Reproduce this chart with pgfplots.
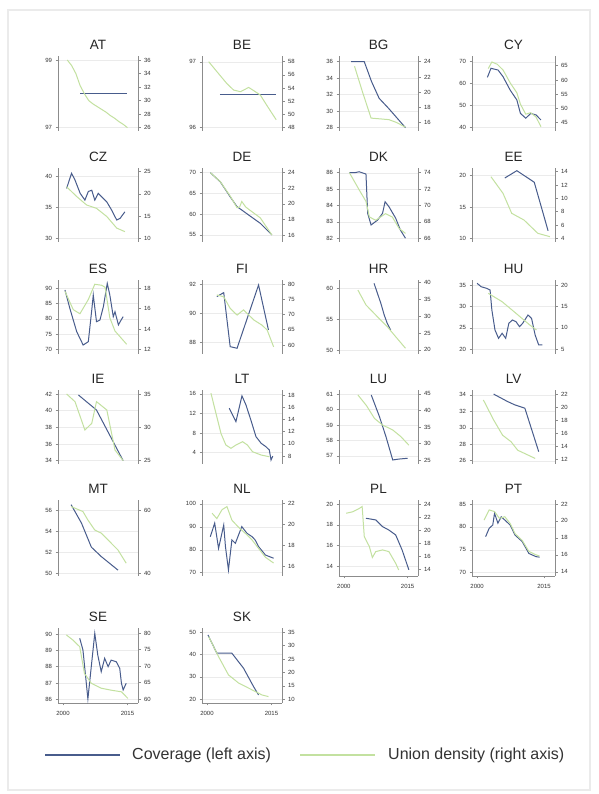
\documentclass[border=0pt]{standalone}
\usepackage{fontspec}
\setmainfont{Liberation Sans}
\usepackage{pgfplots}
\pgfplotsset{compat=1.18}
\definecolor{covc}{RGB}{72,92,140}
\definecolor{denc}{RGB}{195,225,160}
\pgfplotsset{
  base/.style={scale only axis, xmin=1998.85, xmax=2017.45, clip=false,
    tick align=outside, major tick length=2.5pt,
    axis line style={-,black!45,line width=0.6pt}, tick style={black!45,line width=0.5pt},
    ticklabel style={font=\fontsize{6}{7}\selectfont, text=black!80},
    /pgf/number format/assume math mode=true, scaled y ticks=false,
    yticklabel style={/pgf/number format/fixed}},
  lax/.style={base, axis y line*=left, ymajorgrids, major grid style={black!8, line width=0.4pt},
    title style={font=\fontsize{13.5}{14}\selectfont, text=black!85, anchor=center, yshift=5pt}},
  rax/.style={base, axis y line*=right, hide x axis},
  nox/.style={hide x axis},
  xax/.style={axis x line*=bottom, xtick={2000,2015}, xticklabel style={/pgf/number format/1000 sep={}, yshift=-2pt}},
  cov/.style={color=covc, line width=1.0pt, mark=none},
  den/.style={color=denc, line width=1.0pt, mark=none},
  cA/.style={width=80pt}, cB/.style={width=80pt}, cC/.style={width=79pt}, cD/.style={width=83pt},
  rA/.style={height=75pt}, rB/.style={height=74pt}, rC/.style={height=74pt}, rD/.style={height=74pt}, rE/.style={height=76pt}, rF/.style={height=75pt},
}
\begin{document}
\begin{tikzpicture}
\fill[white] (0pt,0pt) rectangle (598pt,794pt);
\draw[black!8, line width=2pt] (8pt,4pt) rectangle (590pt,784pt);

% ---------- Row 1 ----------
% AT
\begin{axis}[lax,nox,cA,rA,at={(58pt,663pt)},title={AT},ymin=96.90,ymax=99.12,ytick={97,99}]
\addplot[cov] coordinates {(2004,98)(2015,98)};
\end{axis}
\begin{axis}[rax,cA,rA,at={(58pt,663pt)},ymin=25.51,ymax=36.59,ytick={26,28,30,32,34,36}]
\addplot[den] coordinates {(2001,36.0)(2002,35.2)(2003,34.0)(2004,32.2)(2005,31.0)(2006,30.0)(2007,29.5)(2008,29.1)(2009,28.7)(2010,28.3)(2011,27.8)(2012,27.4)(2013,26.9)(2014,26.5)(2015,26.0)};
\end{axis}
% BE
\begin{axis}[lax,nox,cB,rA,at={(202pt,663pt)},title={BE},ymin=95.95,ymax=97.09,ytick={96,97}]
\addplot[cov] coordinates {(2003,96.5)(2016,96.5)};
\end{axis}
\begin{axis}[rax,cB,rA,at={(202pt,663pt)},ymin=47.5,ymax=58.86,ytick={48,50,52,54,56,58}]
\addplot[den] coordinates {(2000.4,58)(2002.3,56.5)(2004.6,54.7)(2006.2,53.7)(2007.8,53.45)(2009.7,54.1)(2010.9,53.6)(2012.4,52.95)(2014,51.3)(2016.1,49.2)};
\end{axis}
% BG
\begin{axis}[lax,nox,cC,rA,at={(339pt,663pt)},title={BG},ymin=27.6,ymax=36.69,ytick={28,30,32,34,36}]
\addplot[cov] coordinates {(2001.7,36)(2004.8,36)(2006.5,33.6)(2008.3,31.56)(2010.6,30.3)(2014.5,28)};
\end{axis}
\begin{axis}[rax,cC,rA,at={(339pt,663pt)},ymin=14.91,ymax=24.75,ytick={16,18,20,22,24}]
\addplot[den] coordinates {(2002.5,23.4)(2004.4,20.0)(2006.4,16.6)(2008.5,16.5)(2010.6,16.4)(2012.5,16.0)(2014.5,15.4)};
\end{axis}
% CY
\begin{axis}[lax,nox,cD,rA,at={(472pt,663pt)},title={CY},ymin=38.5,ymax=72.6,ytick={40,50,60,70}]
\addplot[cov] coordinates {(2002.3,62.9)(2003.1,67.0)(2004.7,66.2)(2005.8,63.2)(2007.4,57.1)(2008.9,52.6)(2009.7,46.5)(2010.9,44.3)(2012.0,46.5)(2013.2,45.8)(2014.3,43.5)};
\end{axis}
\begin{axis}[rax,cD,rA,at={(472pt,663pt)},ymin=42.1,ymax=68.4,ytick={45,50,55,60,65}]
\addplot[den] coordinates {(2002.5,64.0)(2003.3,66.3)(2004.5,65.5)(2005.8,63.5)(2007.4,59.0)(2008.9,55.5)(2009.7,51.5)(2010.9,48.0)(2012.0,48.5)(2013.2,47.0)(2014.3,43.6)};
\end{axis}

% ---------- Row 2 ----------
% CZ
\begin{axis}[lax,nox,cA,rB,at={(58pt,552pt)},title={CZ},ymin=29.4,ymax=41.41,ytick={30,35,40}]
\addplot[cov] coordinates {(2000.85,38.1)(2002.0,40.55)(2002.8,39.46)(2004.0,37.3)(2005.1,36.2)(2005.9,37.6)(2006.7,37.8)(2007.4,36.2)(2008.2,37.3)(2009.0,36.75)(2010.2,35.9)(2011.3,34.6)(2012.5,32.97)(2013.3,33.25)(2014.4,34.3)};
\end{axis}
\begin{axis}[rax,cA,rB,at={(58pt,552pt)},ymin=9.17,ymax=25.83,ytick={10,15,20,25}]
\addplot[den] coordinates {(2000.85,21.6)(2003.2,19.4)(2005.5,17.5)(2007.8,16.75)(2010.2,14.9)(2012.5,12.3)(2014.4,11.5)};
\end{axis}
% DE
\begin{axis}[lax,nox,cB,rB,at={(202pt,552pt)},title={DE},ymin=53.3,ymax=71.13,ytick={55,60,65,70}]
\addplot[cov] coordinates {(2000.8,70)(2003.1,67.8)(2005.4,64.2)(2007.0,61.8)(2008.1,61.0)(2009.7,59.8)(2012.4,57.8)(2015.1,55)};
\end{axis}
\begin{axis}[rax,cB,rB,at={(202pt,552pt)},ymin=15.1,ymax=24.6,ytick={16,18,20,22,24}]
\addplot[den] coordinates {(2000.8,24)(2003.1,22.85)(2005.4,21.0)(2007.0,19.5)(2007.6,19.6)(2008.1,20.3)(2009.0,19.6)(2009.7,19.3)(2012.4,18.2)(2015.1,16.0)};
\end{axis}
% DK
\begin{axis}[lax,nox,cC,rB,at={(339pt,552pt)},title={DK},ymin=81.77,ymax=86.29,ytick={82,83,84,85,86}]
\addplot[cov] coordinates {(2001.3,86)(2002.5,86)(2003.6,86.06)(2005.2,85.92)(2005.6,83.52)(2006.4,82.81)(2007.9,83.1)(2009.1,83.52)(2009.7,84.23)(2010.6,83.93)(2012.2,83.22)(2013.3,82.5)(2014.5,82)};
\end{axis}
\begin{axis}[rax,cC,rB,at={(339pt,552pt)},ymin=65.55,ymax=74.57,ytick={66,68,70,72,74}]
\addplot[den] coordinates {(2001.3,74)(2003.6,71.9)(2005.2,70.5)(2006.0,68.6)(2007.5,68.2)(2009.8,69.0)(2011.4,68.6)(2013.0,67.2)(2014.5,66.6)};
\end{axis}
% EE
\begin{axis}[lax,nox,cD,rB,at={(472pt,552pt)},title={EE},ymin=9.41,ymax=21.23,ytick={10,15,20}]
\addplot[cov] coordinates {(2006.2,19.63)(2008.9,20.8)(2012.8,18.95)(2015.9,11.2)};
\end{axis}
\begin{axis}[rax,cD,rB,at={(472pt,552pt)},ymin=3.45,ymax=14.56,ytick={4,6,8,10,12,14}]
\addplot[den] coordinates {(2003.1,13.25)(2005.8,10.75)(2007.75,7.75)(2010.5,6.75)(2013.6,4.75)(2016.3,4.25)};
\end{axis}

% ---------- Row 3 ----------
% ES
\begin{axis}[lax,nox,cA,rC,at={(58pt,440pt)},title={ES},ymin=68.46,ymax=92.72,ytick={70,75,80,85,90}]
\addplot[cov] coordinates {(2000.47,89.44)(2001.6,83.44)(2003.2,75.77)(2004.7,71.4)(2005.9,72.5)(2006.7,82.9)(2007.05,87.8)(2007.8,79.05)(2008.6,79.6)(2009.4,84.0)(2010.3,91.6)(2010.9,87.8)(2011.7,80.7)(2012.1,82.3)(2012.9,78.0)(2013.3,79.05)(2014.0,80.7)};
\end{axis}
\begin{axis}[rax,cA,rC,at={(58pt,440pt)},ymin=11.54,ymax=18.82,ytick={12,14,16,18}]
\addplot[den] coordinates {(2000.47,17.7)(2002.4,15.9)(2003.95,15.5)(2005.9,16.9)(2007.4,18.4)(2009.0,18.3)(2009.8,18.1)(2010.9,15.1)(2012.1,13.8)(2014.8,12.5)};
\end{axis}
% FI
\begin{axis}[lax,nox,cB,rC,at={(202pt,440pt)},title={FI},ymin=87.23,ymax=92.27,ytick={88,90,92}]
\addplot[cov] coordinates {(2002.3,91.14)(2003.9,91.41)(2005.4,87.73)(2007.0,87.62)(2012.0,91.93)(2014.3,88.87)};
\end{axis}
\begin{axis}[rax,cB,rC,at={(202pt,440pt)},ymin=57.05,ymax=81.3,ytick={60,65,70,75,80}]
\addplot[den] coordinates {(2002.3,76.4)(2003.9,75.8)(2005.4,72.0)(2007.0,69.8)(2008.5,71.5)(2010.9,68.2)(2012.8,66.5)(2014.0,64.9)(2015.5,59.4)};
\end{axis}
% HR
\begin{axis}[lax,nox,cC,rC,at={(339pt,440pt)},title={HR},ymin=49.35,ymax=61.35,ytick={50,55,60}]
\addplot[cov] coordinates {(2007.1,60.81)(2008.7,57.57)(2009.5,55.67)(2010.2,54.33)(2011.0,53.24)};
\end{axis}
\begin{axis}[rax,cC,rC,at={(339pt,440pt)},ymin=18.8,ymax=40.68,ytick={20,25,30,35,40}]
\addplot[den] coordinates {(2003.3,37.7)(2005.2,33.3)(2007.9,29.8)(2010.2,26.9)(2012.2,23.9)(2014.5,20.5)};
\end{axis}
% HU
\begin{axis}[lax,nox,cD,rC,at={(472pt,440pt)},title={HU},ymin=18.9,ymax=36.17,ytick={20,25,30,35}]
\addplot[cov] coordinates {(2000,35.39)(2000.9,34.6)(2002.1,34.23)(2002.9,33.83)(2003.3,29.17)(2004.0,24.5)(2004.8,22.56)(2005.6,23.73)(2006.4,22.56)(2007.1,26.06)(2007.9,26.83)(2008.7,26.45)(2009.5,25.27)(2010.2,26.06)(2011.4,28.0)(2012.2,27.2)(2013.0,23.33)(2013.8,21.0)(2014.6,21.0)};
\end{axis}
\begin{axis}[rax,cD,rC,at={(472pt,440pt)},ymin=3.9,ymax=21.17,ytick={5,10,15,20}]
\addplot[den] coordinates {(2002.5,18.06)(2005.6,16.1)(2008.7,13.4)(2011.8,10.67)(2013.3,9.5)};
\end{axis}

% ---------- Row 4 ----------
% IE
\begin{axis}[lax,nox,cA,rD,at={(58pt,330pt)},title={IE},ymin=33.6,ymax=42.48,ytick={34,36,38,40,42}]
\addplot[cov] coordinates {(2003.6,41.88)(2007.8,40.08)(2014.0,34.0)};
\end{axis}
\begin{axis}[rax,cA,rD,at={(58pt,330pt)},ymin=24.5,ymax=35.6,ytick={25,30,35}]
\addplot[den] coordinates {(2000.85,35)(2002.8,33.85)(2005.1,29.6)(2006.7,30.6)(2007.8,33.85)(2010.2,32.6)(2012.1,26.6)(2014.0,25.0)};
\end{axis}
% LT
\begin{axis}[lax,nox,cB,rD,at={(202pt,330pt)},title={LT},ymin=1.69,ymax=16.8,ytick={4,8,12,16}]
\addplot[cov] coordinates {(2005.19,13.08)(2006.74,10.34)(2008.14,15.6)(2009.07,13.75)(2010.2,10.7)(2011.4,7.27)(2012.6,5.92)(2013.7,5.23)(2014.5,4.55)(2014.9,2.5)(2015.3,3.3)};
\end{axis}
\begin{axis}[rax,cB,rD,at={(202pt,330pt)},ymin=6.69,ymax=18.82,ytick={8,10,12,14,16,18}]
\addplot[den] coordinates {(2000.93,18.3)(2002.09,15.0)(2003.26,11.7)(2004.4,9.8)(2005.58,9.26)(2006.74,9.8)(2008.3,10.34)(2009.4,9.8)(2010.6,8.7)(2012.6,8.16)(2014.5,7.88)};
\end{axis}
% LU
\begin{axis}[lax,nox,cC,rD,at={(339pt,330pt)},title={LU},ymin=56.48,ymax=61.26,ytick={57,58,59,60,61}]
\addplot[cov] coordinates {(2006.44,60.94)(2008.37,59.54)(2009.9,58.25)(2011.5,56.74)(2013.0,56.8)(2015.0,56.85)};
\end{axis}
\begin{axis}[rax,cC,rD,at={(339pt,330pt)},ymin=23.8,ymax=46.2,ytick={25,30,35,40,45}]
\addplot[den] coordinates {(2003.3,44.7)(2005.3,41.5)(2007.2,37.6)(2009.1,35.6)(2011.5,34.1)(2013.4,32.1)(2015.3,29.5)};
\end{axis}
% LV
\begin{axis}[lax,nox,cD,rD,at={(472pt,330pt)},title={LV},ymin=25.6,ymax=34.6,ytick={26,28,30,32,34}]
\addplot[cov] coordinates {(2003.7,34.1)(2006.8,33.2)(2008.4,32.8)(2010.7,32.38)(2013.8,27.1)};
\end{axis}
\begin{axis}[rax,cD,rD,at={(472pt,330pt)},ymin=11.3,ymax=22.6,ytick={12,14,16,18,20,22}]
\addplot[den] coordinates {(2001.4,21.08)(2003.7,18.02)(2005.7,15.7)(2007.6,14.7)(2009.1,13.4)(2013.0,12.15)};
\end{axis}

% ---------- Row 5 ----------
% MT
\begin{axis}[lax,nox,cA,rE,at={(58pt,218pt)},title={MT},ymin=49.74,ymax=57.0,ytick={50,52,54,56}]
\addplot[cov] coordinates {(2001.9,56.55)(2004.3,54.8)(2006.6,52.5)(2008.9,51.6)(2012.8,50.3)};
\end{axis}
\begin{axis}[rax,cA,rE,at={(58pt,218pt)},ymin=39.1,ymax=63.4,ytick={40,60}]
\addplot[den] coordinates {(2001.9,61.3)(2004.65,59.7)(2005.8,57.0)(2007.4,53.8)(2008.9,52.8)(2010.5,50.6)(2012.8,47.4)(2014.7,43.2)};
\end{axis}
% NL
\begin{axis}[lax,nox,cB,rE,at={(202pt,218pt)},title={NL},ymin=68.56,ymax=101.7,ytick={70,80,90,100}]
\addplot[cov] coordinates {(2000.78,85.7)(2001.8,91.6)(2002.7,80.6)(2003.3,85.7)(2003.9,90.8)(2004.3,81.4)(2005.0,71.2)(2005.8,84.3)(2006.6,82.8)(2008.1,90.1)(2009.3,87.2)(2010.5,85.7)(2011.2,84.3)(2012.0,81.4)(2013.6,77.7)(2015.5,76.3)};
\end{axis}
\begin{axis}[rax,cB,rE,at={(202pt,218pt)},ymin=15.06,ymax=22.33,ytick={16,18,20,22}]
\addplot[den] coordinates {(2001.2,21.06)(2002.3,20.55)(2003.5,21.4)(2004.65,21.7)(2005.8,20.4)(2007.4,19.7)(2009.3,19.0)(2010.5,18.5)(2012.0,17.7)(2013.6,16.85)(2015.5,16.3)};
\end{axis}
% PL
\begin{axis}[lax,xax,cC,rE,at={(339pt,218pt)},title={PL},ymin=13.1,ymax=20.38,ytick={14,16,18,20}]
\addplot[cov] coordinates {(2005.2,18.63)(2007.5,18.47)(2009.1,17.83)(2010.6,17.5)(2012.2,17.03)(2013.7,15.6)(2015.3,13.69)};
\end{axis}
\begin{axis}[rax,cC,rE,at={(339pt,218pt)},ymin=12.97,ymax=24.6,ytick={14,16,18,20,22,24}]
\addplot[den] coordinates {(2000.54,22.57)(2002.1,22.8)(2003.6,23.3)(2004.3,23.6)(2004.8,19.0)(2006.0,17.47)(2006.7,15.8)(2007.5,16.7)(2009.1,16.96)(2010.6,16.7)(2012.2,14.9)(2012.9,13.9)};
\end{axis}
% PT
\begin{axis}[lax,xax,cD,rE,at={(472pt,218pt)},title={PT},ymin=69.28,ymax=85.87,ytick={70,75,80,85}]
\addplot[cov] coordinates {(2001.9,77.86)(2002.7,79.7)(2003.5,80.4)(2003.9,82.97)(2004.65,80.8)(2005.4,82.2)(2006.2,81.5)(2007.4,80.4)(2008.5,78.2)(2010.1,76.8)(2011.6,74.2)(2013.2,73.5)(2014.0,73.4)};
\end{axis}
\begin{axis}[rax,cD,rE,at={(472pt,218pt)},ymin=13.5,ymax=22.47,ytick={14,16,18,20,22}]
\addplot[den] coordinates {(2001.55,20.1)(2002.7,21.3)(2003.9,21.1)(2005.0,20.3)(2006.2,20.5)(2007.4,19.7)(2008.5,18.5)(2010.1,17.7)(2011.6,16.4)(2013.2,16.0)(2014.0,15.85)};
\end{axis}

% ---------- Row 6 ----------
% SE
\begin{axis}[lax,xax,cA,rF,at={(58pt,91pt)},title={SE},ymin=85.77,ymax=90.37,ytick={86,87,88,89,90}]
\addplot[cov] coordinates {(2003.9,89.74)(2004.65,89.02)(2005.8,86.02)(2007.4,90.04)(2008.1,88.71)(2008.9,87.69)(2009.7,88.51)(2010.5,88.0)(2011.2,88.4)(2012.4,88.3)(2013.2,87.9)(2013.6,86.98)(2014.0,86.57)(2014.7,86.98)};
\end{axis}
\begin{axis}[rax,cA,rF,at={(58pt,91pt)},ymin=58.8,ymax=81.6,ytick={60,65,70,75,80}]
\addplot[den] coordinates {(2000.78,79.5)(2002.3,77.96)(2003.9,75.9)(2005.0,67.8)(2006.6,64.8)(2008.9,63.3)(2011.2,62.7)(2013.6,62.2)(2015.1,60.2)};
\end{axis}
% SK
\begin{axis}[lax,xax,cB,rF,at={(202pt,91pt)},title={SK},ymin=18.3,ymax=51.9,ytick={20,30,40,50}]
\addplot[cov] coordinates {(2000.23,48.8)(2002.3,40.6)(2005.8,40.6)(2008.5,33.9)(2010.85,25.6)(2012.0,21.9)};
\end{axis}
\begin{axis}[rax,cB,rF,at={(202pt,91pt)},ymin=8.6,ymax=36.6,ytick={10,15,20,25,30,35}]
\addplot[den] coordinates {(2000.4,33.4)(2002.7,25.9)(2005.0,19.1)(2007.4,16.0)(2010.5,13.5)(2012.8,11.6)(2014.3,11.0)};
\end{axis}

% ---------- Legend ----------
\draw[covc, line width=1.4pt] (45pt,39pt) -- (120pt,39pt);
\node[anchor=west, font=\fontsize{16}{18}\selectfont, text=black!80, inner sep=0pt] at (132pt,39pt) {Coverage (left axis)};
\draw[denc, line width=1.4pt] (300pt,39pt) -- (375pt,39pt);
\node[anchor=west, font=\fontsize{16}{18}\selectfont, text=black!80, inner sep=0pt] at (388pt,39pt) {Union density (right axis)};
\end{tikzpicture}
\end{document}
